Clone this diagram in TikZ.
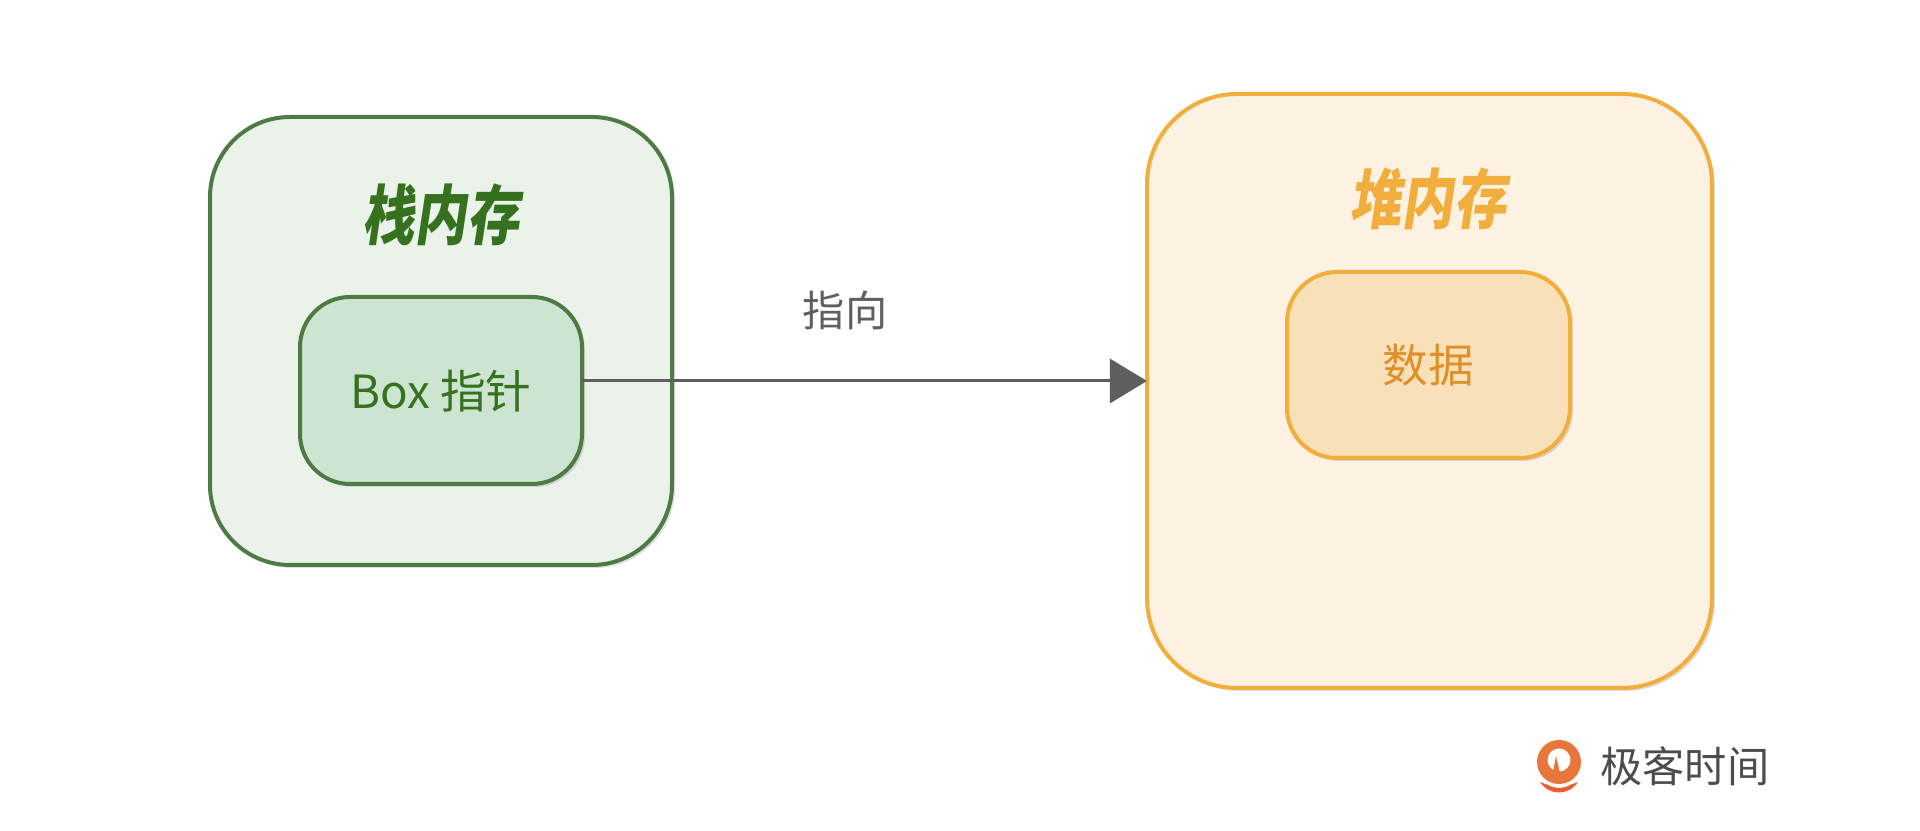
\documentclass[tikz,border=0pt]{standalone}
\usepackage{fontspec}
\newfontfamily\cjk{Noto Sans CJK SC}
\newfontfamily\cjkslant[FakeSlant=0.15,FakeStretch=0.8]{Noto Sans CJK SC}
\usetikzlibrary{arrows.meta,shadows}
\definecolor{stackline}{HTML}{4E7A46}
\definecolor{stackfill}{HTML}{EAF2E9}
\definecolor{stackin}{HTML}{CDE5D0}
\definecolor{stacktext}{HTML}{35711F}
\definecolor{heapline}{HTML}{F2AE3D}
\definecolor{heapfill}{HTML}{FDF1E1}
\definecolor{heapin}{HTML}{F8E0B9}
\definecolor{heaptext}{HTML}{E0902A}
\definecolor{arrowgray}{HTML}{5F5F5F}
\definecolor{logoorange}{HTML}{E8763A}
\begin{document}
\begin{tikzpicture}[x=0.01cm,y=-0.01cm,font=\cjk, line join=round,
  box/.style={line width=0.04cm, drop shadow={opacity=0.25,shadow xshift=0.03cm,shadow yshift=-0.03cm}},
  title/.style={font=\cjkslant\bfseries\fontsize{18.5}{22}\selectfont}]
\useasboundingbox(0,0)rectangle(1920,831);
% stack side
\draw[box,draw=stackline,fill=stackfill,rounded corners=0.8cm](210,117)rectangle(672,565);
\node[title,text=stacktext](stacktitle)at(441,215){栈内存};
\draw[box,draw=stackline,fill=stackin,rounded corners=0.5cm](300,297)rectangle(582,484);
\node[text=stacktext,font=\cjk\fontsize{13}{16}\selectfont](ptr)at(441,391){Box 指针};
\coordinate(ptrend)at(582,381);
% heap side
\draw[box,draw=heapline,fill=heapfill,rounded corners=0.9cm](1147,94)rectangle(1712,688);
\coordinate(heapedge)at(1147,381);
\node[title,text=heapline](heaptitle)at(1428,199){堆内存};
\draw[box,draw=heapline,fill=heapin,rounded corners=0.5cm](1287,272)rectangle(1570,458);
\node[text=heaptext,font=\cjk\fontsize{13}{16}\selectfont](data)at(1428,365){数据};
% arrow
\draw[arrowgray,line width=0.03cm,-{Triangle[length=0.37cm,width=0.44cm]}](ptrend)--(heapedge);
\node[text=arrowgray,font=\cjk\fontsize{12}{14}\selectfont](label)at(845,310){指向};
% logo
\fill[logoorange](1559,762)circle(22);
\fill[white](1559,760)circle(11.5);
\fill[logoorange](1552,777)--(1556,756)--(1561,777)--cycle;
\fill[logoorange!80!red](1540,782)..controls(1549,796)and(1569,796)..(1578,782)--(1570,785)..controls(1563,789)and(1555,789)..(1548,785)--cycle;
\node[anchor=west,text=black!70,font=\cjk\fontsize{12}{15}\selectfont](logo)at(1588,766){极客时间};
\end{tikzpicture}
\end{document}
